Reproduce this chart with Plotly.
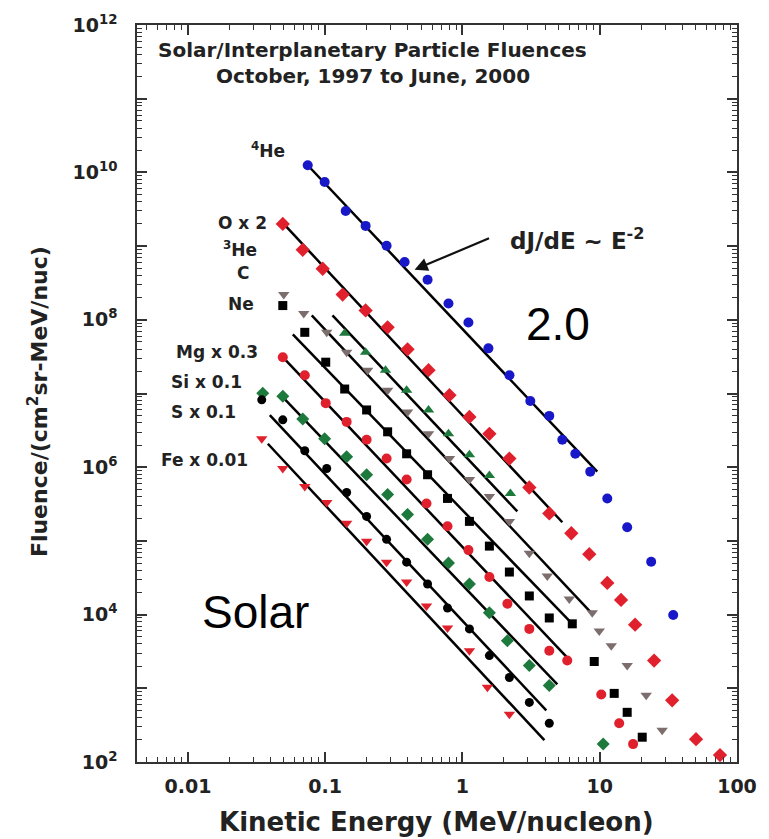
import plotly.graph_objects as go

# ---------------- data ----------------
he4_x = [0.0746, 0.0991, 0.141, 0.197, 0.280, 0.379, 0.557, 0.791, 1.105, 1.545,
         2.20, 3.12, 4.29, 5.34, 6.64, 8.53, 11.35, 15.85, 23.7, 34.3]
he4_y = [1.25e10, 7.4e9, 3.0e9, 1.88e9, 1.01e9, 6.1e8, 3.5e8, 1.66e8, 9.2e7, 4.1e7,
         1.77e7, 7.9e6, 4.97e6, 2.36e6, 1.52e6, 8.7e5, 3.77e5, 1.53e5, 5.2e4, 9.9e3]

o_x = [0.0491, 0.0686, 0.0959, 0.134, 0.197, 0.285, 0.398, 0.566, 0.804, 1.124, 1.571,
       2.197, 3.07, 4.29, 6.21, 8.39, 11.35, 14.3, 18.1, 24.9, 33.7, 50.3, 75.2]
o_y = [2.0e9, 8.9e8, 4.93e8, 2.2e8, 1.34e8, 7.9e7, 3.98e7, 2.07e7, 9.5e6, 4.81e6, 2.84e6,
       1.31e6, 5.3e5, 2.36e5, 1.27e5, 6.6e4, 2.69e4, 1.58e4, 7.3e3, 2.38e3, 686, 204, 124]

c_x = [0.1387, 0.197, 0.275, 0.392, 0.566, 0.791, 1.124, 1.571, 2.234]
c_y = [6.55e7, 3.63e7, 2.07e7, 1.11e7, 5.98e6, 2.84e6, 1.48e6, 7.7e5, 4.4e5]

he3_x = [0.0499, 0.0698, 0.1026, 0.1433, 0.2037, 0.285, 0.398, 0.566, 0.804, 1.124, 1.571,
         2.197, 3.07, 4.15, 6.00, 8.82, 9.92, 12.13, 15.85, 21.8, 28.5]
he3_y = [2.2e8, 1.22e8, 6.76e7, 3.63e7, 2.07e7, 1.11e7, 5.6e6, 2.84e6, 1.31e6, 6.8e5, 4.0e5,
         1.84e5, 6.8e4, 3.33e4, 1.63e4, 1.06e4, 6.0e3, 3.79e3, 2.04e3, 802, 270]

ne_x = [0.0491, 0.0710, 0.1009, 0.1387, 0.2003, 0.285, 0.392, 0.557, 0.778, 1.124, 1.571,
        2.197, 3.07, 4.29, 6.31, 9.12, 12.75, 15.85, 20.4]
ne_y = [1.56e8, 6.76e7, 2.66e7, 1.15e7, 5.98e6, 3.02e6, 1.52e6, 7.9e5, 3.77e5, 1.84e5, 8.5e4,
        3.78e4, 1.79e4, 9.0e3, 7.5e3, 2.31e3, 853, 472, 217]

mg_x = [0.0491, 0.0710, 0.1009, 0.1433, 0.2003, 0.280, 0.392, 0.547, 0.778, 1.105, 1.571,
        2.125, 3.07, 4.29, 5.80, 10.26, 13.86, 17.5]
mg_y = [3.1e7, 1.77e7, 7.4e6, 4.12e6, 2.36e6, 1.31e6, 6.8e5, 3.22e5, 1.58e5, 7.5e4, 3.24e4,
        1.4e4, 6.4e3, 3.24e3, 2.38e3, 826, 336, 175]

si_x = [0.0351, 0.0491, 0.0686, 0.0991, 0.1433, 0.2003, 0.285, 0.398, 0.557, 0.791, 1.124,
        1.571, 2.125, 3.07, 4.29, 10.6]
si_y = [1.01e7, 9.2e6, 4.52e6, 2.43e6, 1.39e6, 7.9e5, 4.27e5, 2.29e5, 1.05e5, 5.0e4, 2.6e4,
        1.06e4, 4.43e3, 2.04e3, 1.09e3, 175]

s_x = [0.0345, 0.0491, 0.0710, 0.1026, 0.1433, 0.2003, 0.280, 0.392, 0.557, 0.778, 1.124,
       1.571, 2.197, 3.07, 4.29]
s_y = [8.2e6, 4.39e6, 1.67e6, 9.6e5, 4.54e5, 2.15e5, 1.05e5, 5.15e4, 2.6e4, 1.23e4, 6.4e3,
       2.78e3, 1.4e3, 644, 336]

fe_x = [0.0345, 0.0491, 0.0710, 0.1026, 0.1433, 0.2003, 0.280, 0.392, 0.547, 0.778, 1.124,
        1.52, 2.197]
fe_y = [2.43e6, 9.6e5, 5.47e5, 3.33e5, 1.73e5, 9.9e4, 5.15e4, 2.77e4, 1.31e4, 6.6e3, 3.24e3,
        1.03e3, 444]

# E^-2 fit lines: start / end points, order He4, O, C, 3He, Ne, Mg, Si, S, Fe
fit_x0 = [0.0746, 0.0491, 0.113, 0.0798, 0.0581, 0.0507, 0.0507, 0.0395, 0.0382]
fit_x1 = [9.59, 5.34, 2.51, 8.82, 6.21, 5.80, 4.91, 4.08, 3.95]
fit_y0 = [1.25e10, 2.06e9, 1.15e8, 1.15e8, 6.35e7, 2.92e7, 8.4e6, 5.1e6, 2.08e6]
fit_y1 = [8.7e5, 1.79e5, 2.51e5, 1.02e4, 7.7e3, 2.61e3, 1.13e3, 502, 198]

x_tick_vals = [0.01, 0.1, 1, 10, 100]
x_tick_text = ["0.01", "0.1", "1", "10", "100"]
y_exponents = list(range(2, 13))

# ---------------- styles ----------------
BLUE = "#1818c8"
RED = "#e0202c"
GREEN = "#1e7a3c"
GRAY = "#7d6e6e"
BLACK = "#000000"
FONT = "DejaVu Sans"
AX = "#333333"

series = [
    ("4He", he4_x, he4_y, "circle", BLUE, 10),
    ("O x 2", o_x, o_y, "diamond", RED, 11),
    ("C", c_x, c_y, "triangle-up", GREEN, 10),
    ("3He", he3_x, he3_y, "triangle-down", GRAY, 10),
    ("Ne", ne_x, ne_y, "square", BLACK, 9),
    ("Mg x 0.3", mg_x, mg_y, "circle", RED, 10),
    ("Si x 0.1", si_x, si_y, "diamond", GREEN, 10),
    ("S x 0.1", s_x, s_y, "circle", BLACK, 9),
    ("Fe x 0.01", fe_x, fe_y, "triangle-down", RED, 10),
]

fig = go.Figure()

for x0, x1, y0, y1 in zip(fit_x0, fit_x1, fit_y0, fit_y1):
    fig.add_trace(go.Scatter(x=[x0, x1], y=[y0, y1], mode="lines",
                             line=dict(color="black", width=2.5),
                             showlegend=False, hoverinfo="skip"))

for name, xs, ys, sym, col, sz in series:
    fig.add_trace(go.Scatter(x=xs, y=ys, mode="markers", name=name,
                             marker=dict(symbol=sym, color=col, size=sz, line=dict(width=0)),
                             showlegend=False))

y_tick_vals = [10 ** e for e in y_exponents]
y_tick_text = [f"10<sup>{e}</sup>" if e % 2 == 0 else "" for e in y_exponents]

tick_font = dict(family=FONT, size=19, color="#222222", weight="bold")
minor_cfg = dict(dtick="D1", ticks="inside", ticklen=5, tickwidth=1.2, tickcolor=AX, showgrid=False)

XR = [-2.371, 2.0]
YR = [2, 12]


def axis_style(**kw):
    d = dict(type="log", showgrid=False, zeroline=False,
             showline=True, linecolor=AX, linewidth=1.5,
             ticks="inside", ticklen=10, tickwidth=1.5, tickcolor=AX,
             minor=minor_cfg)
    d.update(kw)
    return d


fig.update_layout(
    xaxis=axis_style(range=XR, tickmode="array", tickvals=x_tick_vals, ticktext=x_tick_text,
                     tickfont=tick_font, ticklabelstandoff=6),
    yaxis=axis_style(range=YR, tickmode="array", tickvals=y_tick_vals, ticktext=y_tick_text,
                     tickfont=tick_font, ticklabelstandoff=14),
    # mirrored tick frame on top and right
    xaxis2=axis_style(range=XR, overlaying="x", side="top", tickmode="array",
                      tickvals=x_tick_vals, showticklabels=False, anchor="y"),
    yaxis2=axis_style(range=YR, overlaying="y", side="right", tickmode="array",
                      tickvals=y_tick_vals, showticklabels=False, anchor="x"),
)
# a hidden trace so the mirrored axes get drawn
fig.add_trace(go.Scatter(x=[fit_x0[0]], y=[fit_y0[0]], xaxis="x2", yaxis="y2",
                         mode="markers", marker=dict(opacity=0), showlegend=False,
                         hoverinfo="skip"))

L, R, T, B = 137, 31, 21, 77
W, H = 769, 839
PW, PH = W - L - R, H - T - B


def px(xp, yp):
    return (xp - L) / PW, (H - B - yp) / PH


def label(text, xp, yp, size=16, family=FONT, weight="bold", angle=0, color="#222222"):
    xx, yy = px(xp, yp)
    return dict(text=text, x=xx, y=yy, xref="paper", yref="paper", showarrow=False,
                xanchor="center", yanchor="middle", textangle=angle,
                font=dict(family=family, size=size, color=color, weight=weight))


annotations = [
    label("Solar/Interplanetary Particle Fluences", 373, 46, size=20),
    label("October, 1997 to June, 2000", 373, 72, size=20),
    label("<sup>4</sup>He", 268, 147, size=17),
    label("O x 2", 243, 220, size=17),
    label("<sup>3</sup>He", 240, 246, size=17),
    label("C", 243, 270, size=17),
    label("Ne", 241, 302, size=17),
    label("Mg x 0.3", 217, 350, size=17),
    label("Si x 0.1", 207, 380, size=17),
    label("S x 0.1", 204, 410, size=17),
    label("Fe x 0.01", 205, 458, size=17),
    label("dJ/dE ~ E<sup>-2</sup>", 578, 236, size=23),
    label("2.0", 559, 322, size=46, family="Liberation Sans", weight="normal", color="#000000"),
    label("Solar", 256, 611, size=46, family="Liberation Sans", weight="normal", color="#000000"),
    label("Kinetic Energy (MeV/nucleon)", 437, 822, size=26),
    label("Fluence/(cm<sup>2</sup>sr-MeV/nuc)", 38, 400, size=22, angle=-90),
]

# arrow pointing at the 4He line
hx, hy = px(415, 267)
annotations.append(dict(text="", x=hx, y=hy, xref="paper", yref="paper",
                        showarrow=True, arrowhead=2, arrowsize=1.2, arrowwidth=2.2,
                        arrowcolor="#111111", ax=76, ay=-32, standoff=0))

fig.update_layout(
    width=W, height=H,
    margin=dict(l=L, r=R, t=T, b=B, pad=0),
    plot_bgcolor="white", paper_bgcolor="white",
    annotations=annotations,
    showlegend=False,
)

fig.write_html("out.html")
